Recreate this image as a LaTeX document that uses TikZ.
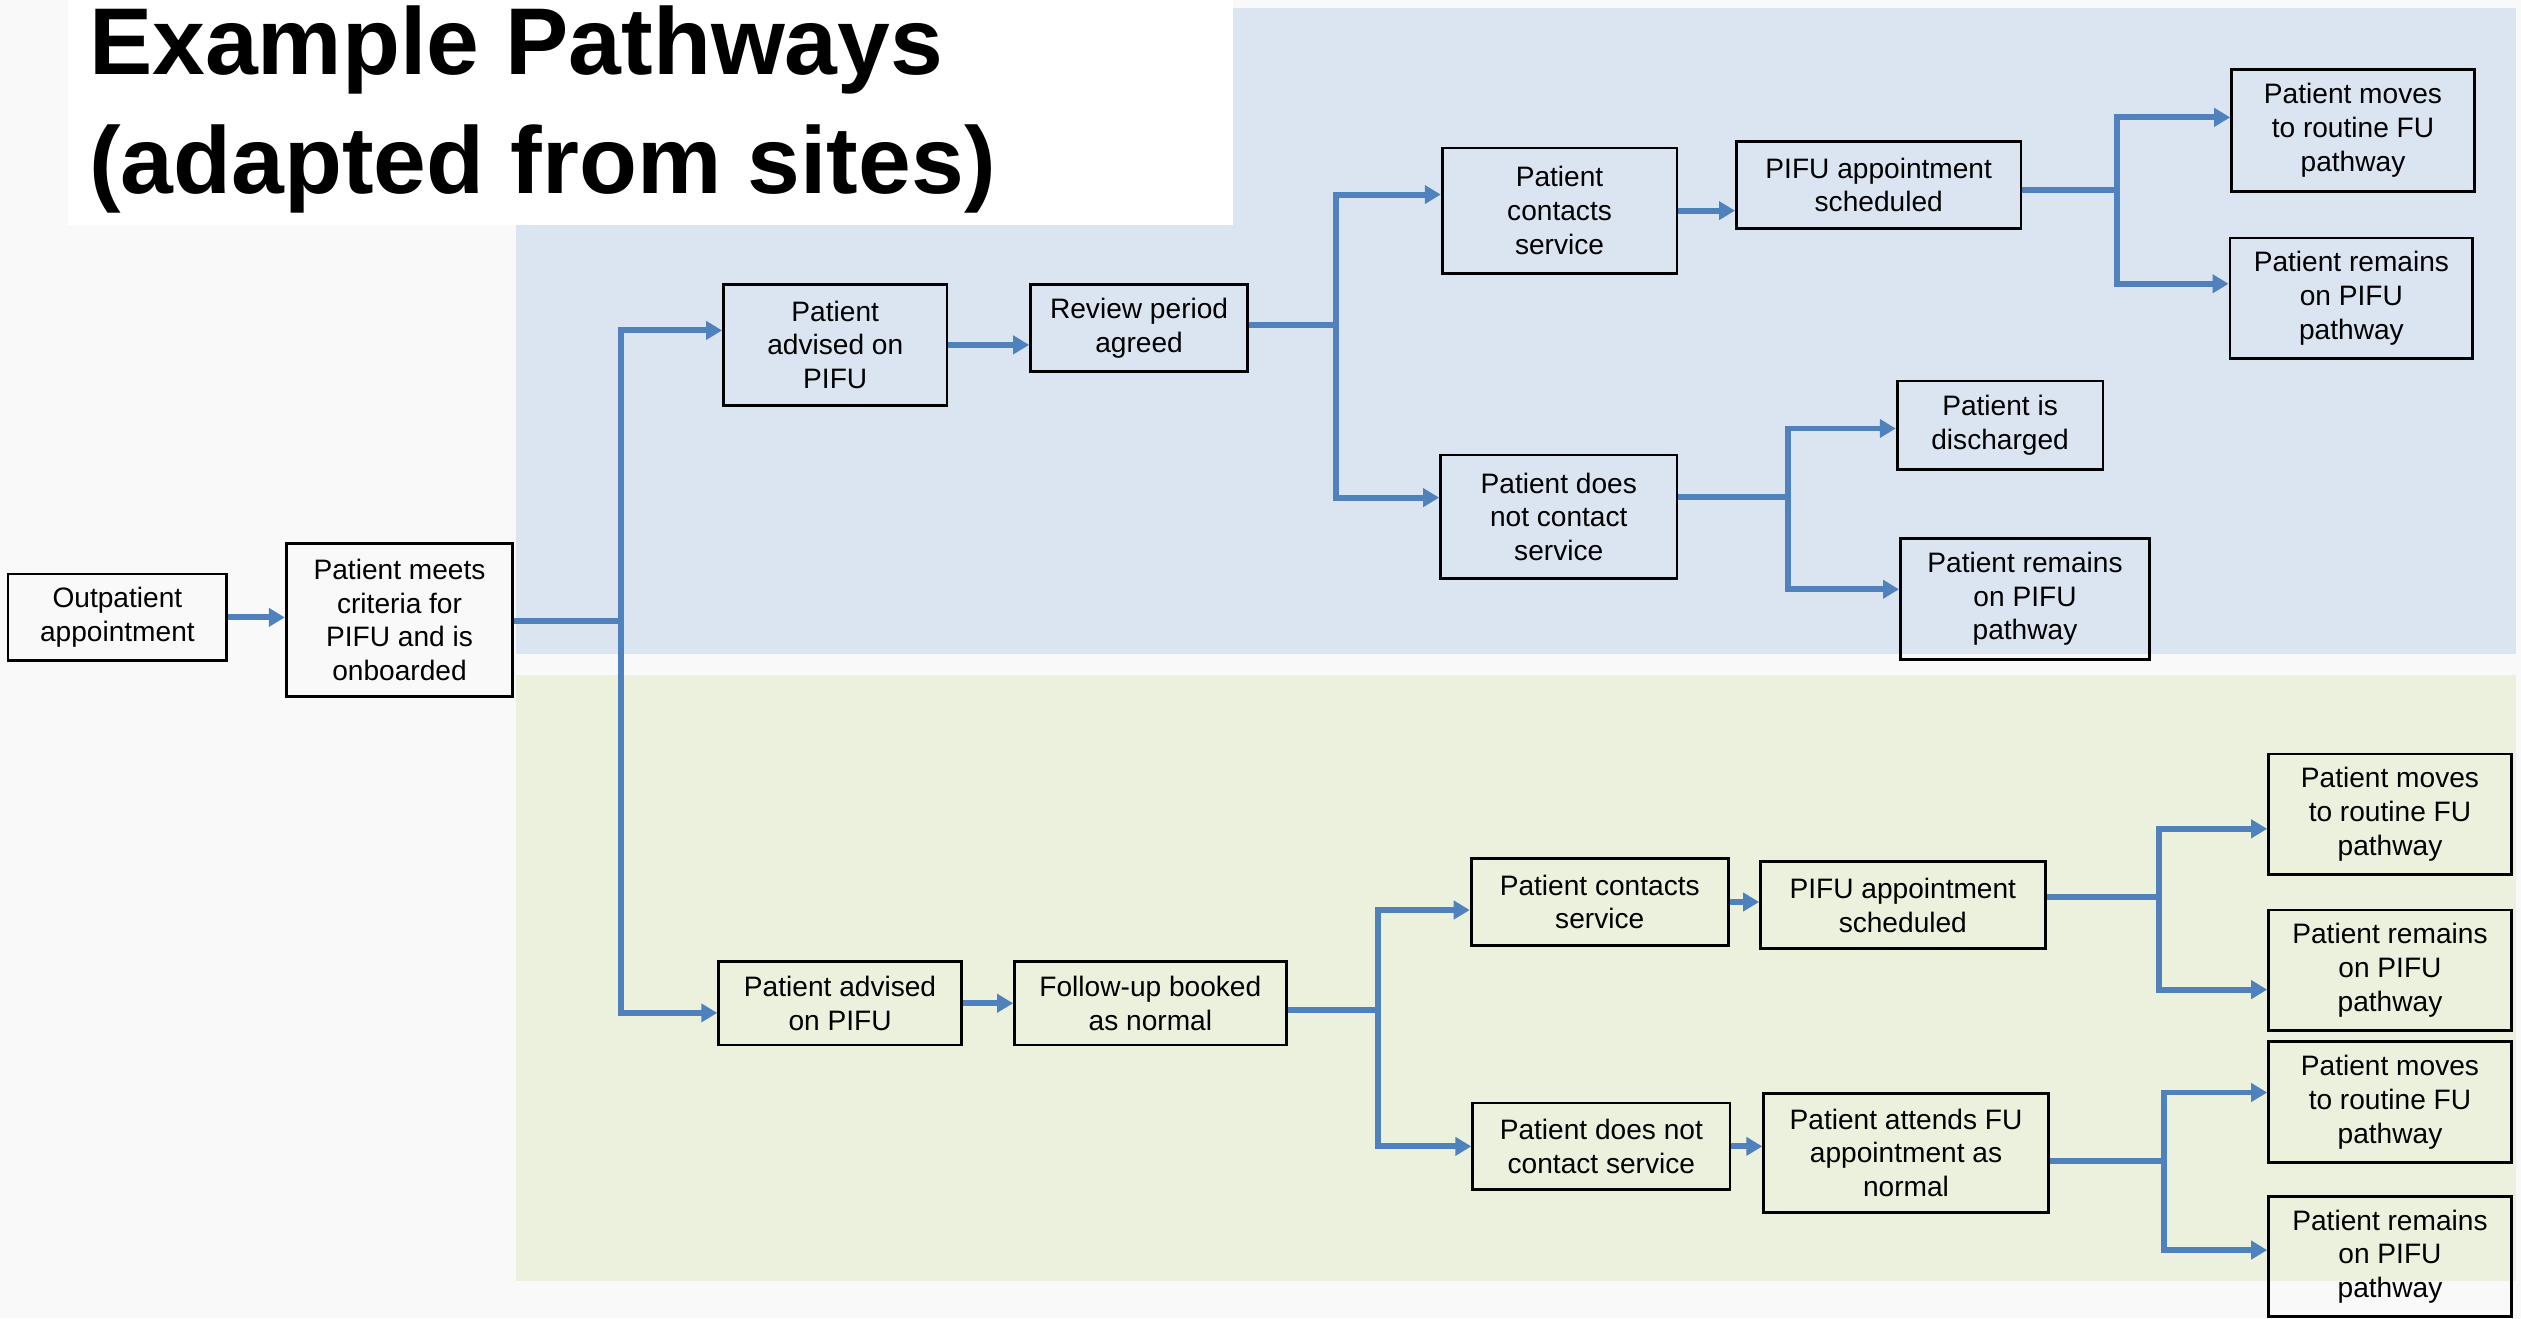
\documentclass[tikz,border=0pt]{standalone}
\usepackage{fontspec}
\setmainfont{Liberation Sans}
\usepackage{xcolor}
\usepackage{tikz}
\usetikzlibrary{arrows.meta}

\definecolor{pagebg}{HTML}{F9F9F9}
\definecolor{topband}{HTML}{DBE5F1}
\definecolor{lowband}{HTML}{EBF1DD}
\definecolor{arrowblue}{HTML}{4F81BD}

\newlength\pxu
\setlength\pxu{0.016078cm}

\tikzset{
    box/.style 2 args={draw, line width=0.8pt, inner sep=1pt, align=center,
        font=\fontsize{8}{9.6}\selectfont,
        minimum width=#1*\pxu, minimum height=#2*\pxu},
    flow/.style={draw=arrowblue, line width=1.7pt}
}

\begin{document}
\begin{tikzpicture}[x=0.016078cm, y=-0.016078cm,
    >={Triangle[length=0.16cm, width=0.18cm]}]

    \useasboundingbox (0,0) rectangle (1568,820);
    \fill[pagebg] (0,0) rectangle (1568,820);
    % bands
    \fill[topband] (321,5) rectangle (1565,407);
    \fill[lowband] (321,420) rectangle (1565,797);
    \fill[white] (42,0) rectangle (767,140);
    \node[anchor=north west, inner sep=0, align=left,
        font=\fontsize{27}{34}\selectfont\bfseries] (title) at (55,3)
        {Example Pathways\\(adapted from sites)};

    % start
    \node[box={136}{54}] (b1) at (73,384) {Outpatient\\appointment};
    \node[box={141}{95}] (b2) at (248.5,385.5) {Patient meets\\criteria for\\PIFU and is\\onboarded};

    % upper pathway
    \node[box={139}{75}] (b3) at (519.5,214.5) {Patient\\advised on\\PIFU};
    \node[box={135}{54}] (b4) at (708.5,204) {Review period\\agreed};
    \node[box={146}{78}] (b5) at (970,131) {Patient\\contacts\\service};
    \node[box={177}{54}] (b6) at (1168.5,115) {PIFU appointment\\scheduled};
    \node[box={151}{76}] (b7) at (1463.5,81) {Patient moves\\to routine FU\\pathway};
    \node[box={151}{75}] (b8) at (1462.5,185.5) {Patient remains\\on PIFU\\pathway};
    \node[box={147}{77}] (b9) at (969.5,321.5) {Patient does\\not contact\\service};
    \node[box={128}{55}] (b10) at (1244,264.5) {Patient is\\discharged};
    \node[box={155}{75}] (b11) at (1259.5,372.5) {Patient remains\\on PIFU\\pathway};

    % lower pathway
    \node[box={151}{52}] (b12) at (522.5,624) {Patient advised\\on PIFU};
    \node[box={169}{52}] (b13) at (715.5,624) {Follow-up booked\\as normal};
    \node[box={160}{54}] (b14) at (995,561) {Patient contacts\\service};
    \node[box={177}{54}] (b15) at (1183.5,563) {PIFU appointment\\scheduled};
    \node[box={160}{54}] (b16) at (996,713) {Patient does not\\contact service};
    \node[box={177}{74}] (b17) at (1185.5,717) {Patient attends FU\\appointment as\\normal};
    \node[box={151}{75}] (b18) at (1486.5,506.5) {Patient moves\\to routine FU\\pathway};
    \node[box={151}{75}] (b19) at (1486.5,603.5) {Patient remains\\on PIFU\\pathway};
    \node[box={151}{75}] (b20) at (1486.5,685.5) {Patient moves\\to routine FU\\pathway};
    \node[box={151}{75}] (b21) at (1486.5,781.5) {Patient remains\\on PIFU\\pathway};

    % junctions
    \coordinate (j1) at (386,386);
    \coordinate (j2) at (831,202);
    \coordinate (j3) at (1317,118);
    \coordinate (j4) at (1112,309);
    \coordinate (j5) at (857,628);
    \coordinate (j6) at (1343,558);
    \coordinate (j7) at (1346,722);

    % straight arrows
    \draw[flow, ->] (b1.east) -- (b1.east -| b2.west);
    \draw[flow, ->] (b3.east) -- (b3.east -| b4.west);
    \draw[flow, ->] (b5.east) -- (b5.east -| b6.west);
    \draw[flow, ->] (b12.east) -- (b12.east -| b13.west);
    \draw[flow, ->] (b14.east) -- (b14.east -| b15.west);
    \draw[flow, ->] (b16.east) -- (b16.east -| b17.west);

    % branches
    \draw[flow, ->] (b2.east |- j1) -- (j1) |- ([yshift=9*\pxu]b3.west);
    \draw[flow, ->] (j1) |- ([yshift=-6*\pxu]b12.west);
    \draw[flow, ->] (b4.east |- j2) -- (j2) |- ([yshift=10*\pxu]b5.west);
    \draw[flow, ->] (j2) |- ([yshift=12*\pxu]b9.west);
    \draw[flow, ->] (b6.east |- j3) -- (j3) |- ([yshift=8*\pxu]b7.west);
    \draw[flow, ->] (j3) |- ([yshift=9*\pxu]b8.west);
    \draw[flow, ->] (b9.east |- j4) -- (j4) |- ([yshift=-2*\pxu]b10.west);
    \draw[flow, ->] (j4) |- ([yshift=6*\pxu]b11.west);
    \draw[flow, ->] (b13.east |- j5) -- (j5) |- ([yshift=-5*\pxu]b14.west);
    \draw[flow, ->] (j5) |- (b16.west);
    \draw[flow, ->] (b15.east |- j6) -- (j6) |- ([yshift=-9*\pxu]b18.west);
    \draw[flow, ->] (j6) |- ([yshift=-12*\pxu]b19.west);
    \draw[flow, ->] (b17.east |- j7) -- (j7) |- ([yshift=6*\pxu]b20.west);
    \draw[flow, ->] (j7) |- ([yshift=4*\pxu]b21.west);

\end{tikzpicture}
\end{document}
